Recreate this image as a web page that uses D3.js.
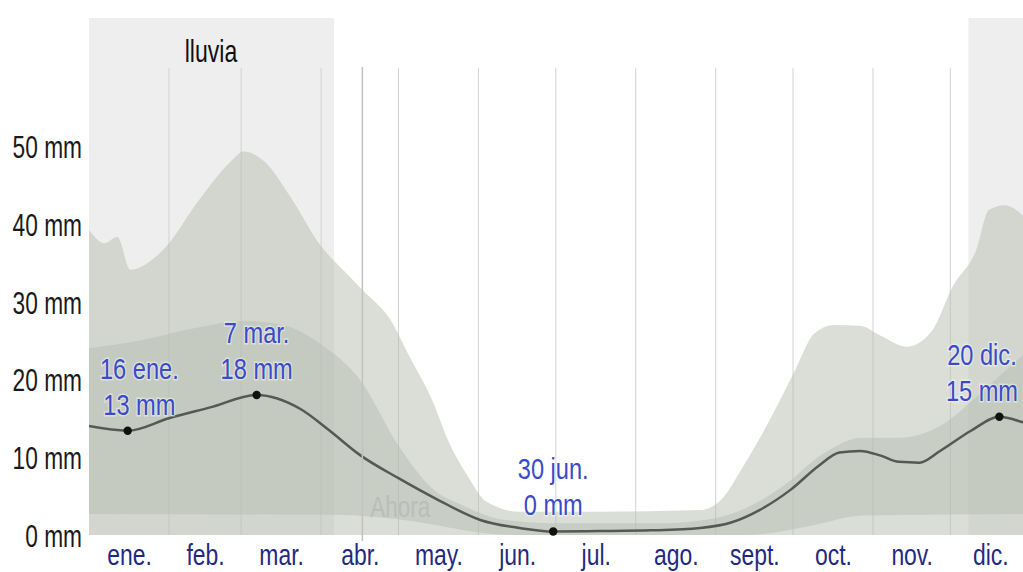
<!DOCTYPE html>
<html><head><meta charset="utf-8">
<script src="https://cdn.jsdelivr.net/npm/d3@7"></script>
<style>html,body{margin:0;padding:0;background:#fff;overflow:hidden}</style>
</head><body>
<svg id="c" width="1023" height="572"></svg>
<script>
// ---------- data ----------
const months = ["ene.","feb.","mar.","abr.","may.","jun.","jul.","ago.","sept.","oct.","nov.","dic."];
const monthStarts = [0,31,59,90,120,151,181,212,243,273,304,334,365];
const yTicks = [0,10,20,30,40,50];
const wetSeason = [[0,95],[341,365]];
const nowDay = 106;

// median (mm)
const medDays = [0,15,31,47,65,82,93,105,120,136,152,167,180,198,218,237,249,260,272,283,291,299,307,314,322,330,342,353,362,365];
const medVals = [14.0,13.4,15.0,16.4,18.0,16.2,13.5,10.3,7.3,4.4,1.9,0.9,0.45,0.5,0.6,0.9,1.6,3.2,5.8,8.9,10.6,10.8,10.2,9.4,9.3,10.8,13.4,15.2,14.5,14.2];

// 90th percentile
const p90Days = [0,6,11,16,28,43,55,60,68,78,90,99,106,117,124,133,140,147,154,167,198,237,245,254,264,274,281,289,299,307,317,327,335,344,349,355,362,365];
const p90Vals = [39.2,37.5,38.3,34.1,36.4,43.2,48.0,49.3,48.0,43.5,37.1,33.9,31.5,27.6,23.1,17.4,11.6,7.5,4.3,3.0,3.0,3.2,4.5,9.0,14.8,21.3,25.8,27.0,26.9,25.6,24.2,26.3,32.0,36.6,41.8,42.4,41.1,40.0];

// 75th percentile
const p75Days = [0,20,40,60,75,90,105,120,133,145,160,180,220,240,255,270,285,300,315,330,345,355,365];
const p75Vals = [24,25,26.5,27.5,27,24.5,20,11.5,6,3.8,2.0,1.5,1.5,2,3.5,6.5,10.5,12.5,12.5,14,18,21,24];

// 25th percentile
const p25Days = [0,95,125,150,165,255,280,300,365];
const p25Vals = [2.7,2.6,1.8,0.4,0,0,1.2,2.5,2.7];

// 10th percentile
const p10Days = [0,365];
const p10Vals = [0,0];

const annotations = [
  {day:15, date:"16 ene.", value:13.4},
  {day:65, date:"7 mar.", value:18.0},
  {day:180, date:"30 jun.", value:0.45},
  {day:353, date:"20 dic.", value:15.2}
];

// ---------- chart ----------
const W = 1023, H = 572;
const FONT = "'Liberation Sans', Arial, sans-serif";
const svg = d3.select("#c");
svg.append("rect").attr("width",W).attr("height",H).attr("fill","#fff");

const x = d3.scaleLinear().domain([0,365]).range([89, 1030.3]);
const y = d3.scaleLinear().domain([0,50]).range([535,146]);
const plotTop = 18, plotBottom = y(0);

svg.append("clipPath").attr("id","clip").append("rect")
  .attr("x", x(0)).attr("y", plotTop).attr("width", W - x(0)).attr("height", plotBottom - plotTop);

const plot = svg.append("g").attr("clip-path","url(#clip)");

// wet season shading
plot.selectAll("rect.wet").data(wetSeason).join("rect")
  .attr("x", d => x(d[0])).attr("width", d => x(d[1]) - x(d[0]))
  .attr("y", plotTop).attr("height", plotBottom - plotTop)
  .attr("fill", "#eeeeee");

// month grid lines
plot.selectAll("line.grid").data(monthStarts.slice(1,12)).join("line")
  .attr("x1", d => x(d)).attr("x2", d => x(d))
  .attr("y1", 68).attr("y2", plotBottom)
  .attr("stroke", "#d2d2d2").attr("stroke-width", 1);

const pts = (days, vals) => days.map((d,i) => [x(d), y(vals[i])]);
const line = d3.line().curve(d3.curveMonotoneX);
function band(tD, tV, bD, bV) {
  const t = line(pts(tD, tV));
  const b = line(pts(bD, bV).reverse());
  return t + "L" + b.slice(1) + "Z";
}
plot.append("path").attr("d", band(p90Days, p90Vals, p10Days, p10Vals))
  .attr("fill", "rgb(182,190,176)").attr("fill-opacity", 0.5);
plot.append("path").attr("d", band(p75Days, p75Vals, p25Days, p25Vals))
  .attr("fill", "rgb(182,190,176)").attr("fill-opacity", 0.5);

// "now" line
svg.append("line").attr("x1", x(nowDay)).attr("x2", x(nowDay))
  .attr("y1", 67).attr("y2", 541).attr("stroke", "#c2c2c2").attr("stroke-width", 1.5);

function addText(parent, str, px, py, o) {
  return parent.append("text")
    .attr("transform", `translate(${px},${py}) scale(${o.sx},1)`)
    .attr("text-anchor", o.anchor || "middle")
    .attr("font-family", FONT).attr("font-size", o.size)
    .attr("fill", o.fill).text(str);
}
addText(svg, "Ahora", x(nowDay) + 8, 517, {sx:0.75, size:30, fill:"#bcbcbc", anchor:"start"});

// median line
plot.append("path").attr("d", line(pts(medDays, medVals)))
  .attr("fill","none").attr("stroke","#545954").attr("stroke-width",2.5);

// dots
svg.selectAll("circle.dot").data(annotations).join("circle")
  .attr("cx", d => x(d.day)).attr("cy", d => y(d.value)).attr("r", 4.2).attr("fill","#111");

// annotation labels
annotations.forEach(a => {
  const cx0 = x(a.day), cy = y(a.value);
  const g = svg.append("g");
  const o = {sx:0.8, size:29.5, fill:"#3a4bc8"};
  const t1 = addText(g, a.date, 0, cy - 52, o);
  const t2 = addText(g, Math.round(a.value) + " mm", 0, cy - 16, o);
  const hw = Math.max(t1.node().getComputedTextLength(), t2.node().getComputedTextLength()) * o.sx / 2;
  let cx = Math.max(cx0, x(0) + 11 + hw);
  cx = Math.min(cx, W - 5 - hw);
  t1.attr("transform", `translate(${cx},${cy-52}) scale(${o.sx},1)`);
  t2.attr("transform", `translate(${cx},${cy-16}) scale(${o.sx},1)`);
  g.selectAll("text").attr("stroke","rgba(255,255,255,0.45)").attr("stroke-width",3).attr("paint-order","stroke");
});

// y axis
const ya = svg.append("g").attr("transform","translate(82,0)")
  .call(d3.axisLeft(y).tickValues(yTicks).tickFormat(d => d + " mm").tickSize(0).tickPadding(0));
ya.select(".domain").remove();
ya.attr("font-family", FONT).attr("font-size", 32);
ya.selectAll("text").attr("x",0).attr("dy",null).attr("y",11.5)
  .attr("transform","scale(0.71,1)").attr("fill","#1a1a1a").attr("text-anchor","end");

// x axis (months)
const mids = months.map((m,i) => (monthStarts[i] + monthStarts[i+1]) / 2);
const xa = svg.append("g").attr("transform",`translate(0,${plotBottom})`)
  .call(d3.axisBottom(x).tickValues(mids).tickFormat((d,i) => months[i]).tickSize(0).tickPadding(0));
xa.select(".domain").remove();
xa.attr("font-family", FONT).attr("font-size", 29);
xa.selectAll("text").attr("y",30).attr("dy",null)
  .attr("transform","scale(0.79,1)").attr("fill","#1f2a80");

// title
addText(svg, "lluvia", 211, 62, {sx:0.72, size:32, fill:"#111"});
</script>
</body></html>
